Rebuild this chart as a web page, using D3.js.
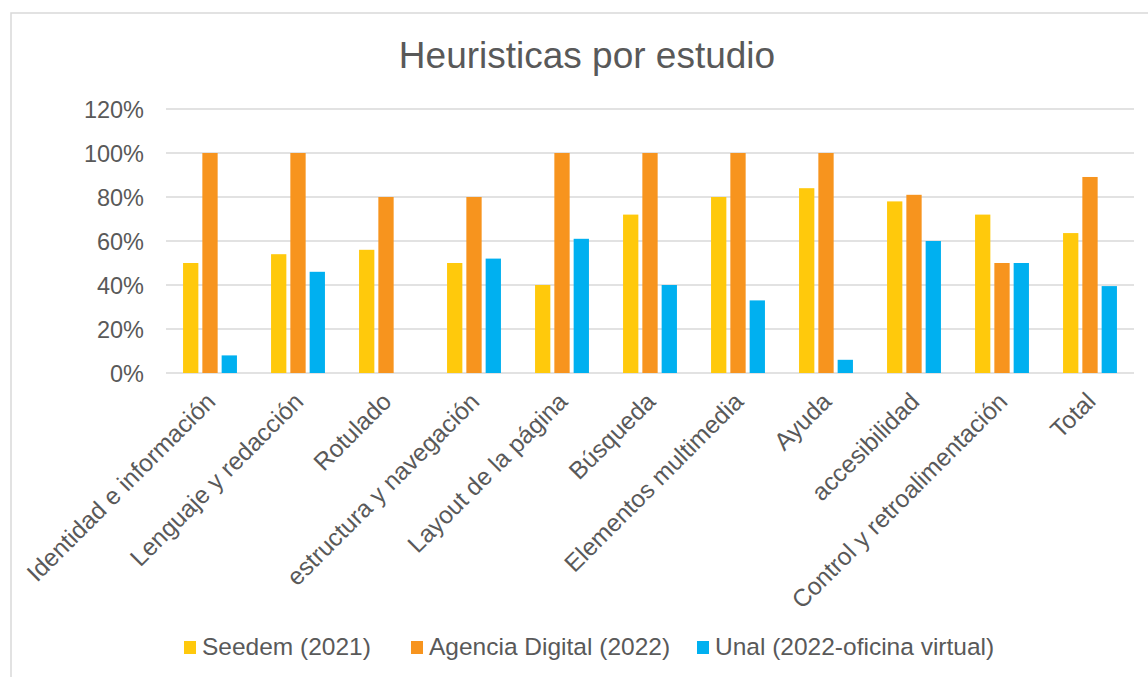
<!DOCTYPE html>
<html>
<head>
<meta charset="utf-8">
<script src="https://cdn.jsdelivr.net/npm/d3@7"></script>
<style>
  body { margin: 0; background: #fff; }
  text { font-family: "Liberation Sans", Arial, sans-serif; fill: #595959; }
</style>
</head>
<body>
<div id="chart"></div>
<script>
const categories = [
  "Identidad e información",
  "Lenguaje y redacción",
  "Rotulado",
  "estructura y navegación",
  "Layout de la página",
  "Búsqueda",
  "Elementos multimedia",
  "Ayuda",
  "accesibilidad",
  "Control y retroalimentación",
  "Total"
];
const seriesNames = ["Seedem (2021)", "Agencia Digital (2022)", "Unal (2022-oficina virtual)"];
const seedem = [0.50, 0.54, 0.56, 0.50, 0.40, 0.72, 0.80, 0.84, 0.78, 0.72, 0.636];
const agencia = [1.00, 1.00, 0.80, 0.80, 1.00, 1.00, 1.00, 1.00, 0.81, 0.50, 0.891];
const unal = [0.08, 0.46, 0.00, 0.52, 0.61, 0.40, 0.33, 0.06, 0.60, 0.50, 0.395];
const yTicks = [0, 0.2, 0.4, 0.6, 0.8, 1.0, 1.2];
const colors = ["#FFC90C", "#F7941E", "#00B0F0"];

const width = 1148, height = 677;
const margin = { top: 109, right: 14, bottom: 304, left: 166 };
const innerW = width - margin.left - margin.right;
const innerH = height - margin.top - margin.bottom;

const svg = d3.select("#chart").append("svg")
  .attr("width", width)
  .attr("height", height);

// chart frame
svg.append("rect")
  .attr("x", 11).attr("y", 13)
  .attr("width", 1200).attr("height", 700)
  .attr("fill", "none")
  .attr("stroke", "#D9D9D9")
  .attr("stroke-width", 1.5);

svg.append("text")
  .attr("x", 587).attr("y", 68)
  .attr("text-anchor", "middle")
  .style("font-size", "37px")
  .text("Heuristicas por estudio");

const g = svg.append("g")
  .attr("transform", `translate(${margin.left},${margin.top})`);

const x0 = d3.scaleBand().domain(categories).range([0, innerW]).padding(0);
const x1 = d3.scaleBand().domain(seriesNames).range([0, 53.9]).paddingInner(0.207);
const y = d3.scaleLinear().domain([0, 1.2]).range([innerH, 0]);

// gridlines
g.append("g")
  .selectAll("line")
  .data(yTicks)
  .join("line")
  .attr("x1", 0).attr("x2", innerW)
  .attr("y1", d => y(d)).attr("y2", d => y(d))
  .attr("stroke", "#D9D9D9")
  .attr("stroke-width", 1.5);

// y axis labels
const yAxis = g.append("g")
  .call(d3.axisLeft(y).tickValues(yTicks).tickFormat(d3.format(".0%")).tickSize(0).tickPadding(22));
yAxis.select(".domain").remove();
yAxis.selectAll("text")
  .style("font-size", "23.5px")
  .style("font-family", '"Liberation Sans", Arial, sans-serif')
  .attr("fill", "#595959")
  .attr("dy", "0.35em");

const rows = categories.map((c, i) => ({
  cat: c,
  vals: [seedem[i], agencia[i], unal[i]]
}));

const groups = g.selectAll(".grp")
  .data(rows)
  .join("g")
  .attr("class", "grp")
  .attr("transform", d => `translate(${x0(d.cat) + x0.bandwidth() / 2 - 26.95},0)`);

groups.selectAll("rect")
  .data(d => d.vals.map((v, j) => ({ s: seriesNames[j], v, j })))
  .join("rect")
  .attr("x", d => x1(d.s))
  .attr("width", x1.bandwidth())
  .attr("y", d => y(d.v))
  .attr("height", d => innerH - y(d.v))
  .attr("fill", d => colors[d.j]);

// category labels
g.append("g")
  .selectAll("text")
  .data(categories)
  .join("text")
  .attr("transform", d => `translate(${x0(d) + x0.bandwidth() / 2 + 7},${innerH + 30}) rotate(-45)`)
  .attr("text-anchor", "end")
  .style("font-size", "24.5px")
  .text(d => d);

// legend
const legendX = [184, 411, 697];
const legend = svg.append("g")
  .selectAll("g")
  .data(seriesNames)
  .join("g")
  .attr("transform", (d, i) => `translate(${legendX[i]},641)`);
legend.append("rect")
  .attr("width", 12).attr("height", 13)
  .attr("fill", (d, i) => colors[i]);
legend.append("text")
  .attr("x", 18).attr("y", 14)
  .style("font-size", "24.5px")
  .text(d => d);
</script>
</body>
</html>
